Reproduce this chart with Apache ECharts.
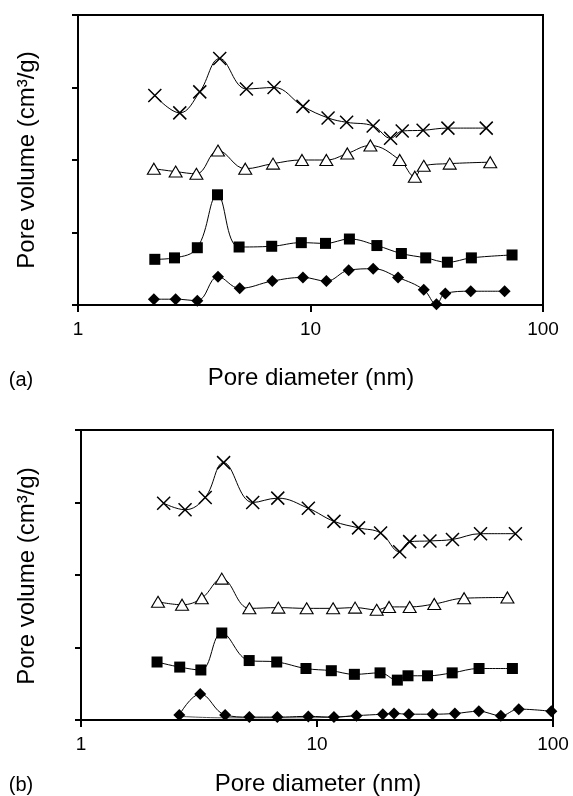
<!DOCTYPE html>
<html>
<head>
<meta charset="utf-8">
<script src="https://cdn.jsdelivr.net/npm/echarts@6/dist/echarts.min.js"></script>
<style>
  html, body { margin: 0; padding: 0; background: #fff; }
  #chart { width: 573px; height: 796px; }
</style>
</head>
<body>
<div id="chart"></div>
<script>
// Pore size distributions, two panels, curves offset vertically.
// x = pore diameter (nm, log scale), y = pore volume in axis units (0..4).

const xTicks = [1, 10, 100];

// panel (a)
const aCrossX = [2.14, 2.74, 3.34, 4.07, 5.30, 6.97, 9.28, 11.9, 14.3, 18.6, 22.1, 24.8, 30.5, 39.0, 57.0];
const aCrossY = [2.89, 2.65, 2.94, 3.40, 2.98, 3.00, 2.74, 2.58, 2.52, 2.47, 2.30, 2.40, 2.41, 2.44, 2.44];
const aTriX = [2.12, 2.63, 3.23, 4.00, 5.24, 6.90, 9.19, 11.7, 14.4, 18.1, 24.2, 28.1, 30.7, 39.7, 59.3];
const aTriY = [1.88, 1.84, 1.81, 2.13, 1.88, 1.95, 2.00, 2.00, 2.09, 2.20, 2.00, 1.77, 1.92, 1.95, 1.97];
const aSqX = [2.14, 2.60, 3.26, 3.98, 4.93, 6.81, 9.13, 11.6, 14.7, 19.3, 24.6, 31.3, 38.8, 49.2, 73.6];
const aSqY = [0.63, 0.65, 0.79, 1.52, 0.80, 0.81, 0.86, 0.85, 0.91, 0.82, 0.71, 0.65, 0.59, 0.65, 0.69];
const aDiaX = [2.12, 2.63, 3.26, 4.00, 4.96, 6.85, 9.28, 11.7, 14.6, 18.6, 23.8, 30.7, 34.8, 38.0, 48.9, 68.4];
const aDiaY = [0.08, 0.08, 0.06, 0.39, 0.23, 0.33, 0.38, 0.33, 0.48, 0.50, 0.38, 0.21, 0.01, 0.16, 0.19, 0.19];

// panel (b)
const bCrossX = [2.24, 2.76, 3.36, 4.02, 5.34, 6.82, 9.19, 11.8, 15.0, 18.6, 22.4, 24.7, 30.1, 37.5, 49.3, 69.3];
const bCrossY = [2.99, 2.90, 3.07, 3.55, 3.00, 3.06, 2.92, 2.74, 2.65, 2.58, 2.32, 2.46, 2.47, 2.49, 2.57, 2.57];
const bTriX = [2.12, 2.68, 3.25, 3.95, 5.17, 6.86, 9.04, 11.7, 14.5, 17.9, 20.2, 24.7, 31.4, 42.0, 64.1];
const bTriY = [1.63, 1.59, 1.68, 1.95, 1.54, 1.55, 1.54, 1.54, 1.55, 1.52, 1.56, 1.56, 1.60, 1.68, 1.69];
const bSqX = [2.10, 2.62, 3.22, 3.95, 5.16, 6.75, 8.98, 11.5, 14.4, 18.5, 21.9, 24.3, 29.4, 37.4, 48.6, 67.3];
const bSqY = [0.80, 0.73, 0.69, 1.20, 0.82, 0.80, 0.71, 0.68, 0.63, 0.65, 0.55, 0.61, 0.61, 0.65, 0.71, 0.71];
const bDiaX = [2.61, 3.20, 4.08, 5.17, 6.79, 9.19, 11.8, 14.7, 19.0, 21.2, 24.5, 30.9, 38.4, 48.5, 60.1, 71.6, 98.4];
const bDiaY = [0.07, 0.36, 0.07, 0.04, 0.04, 0.05, 0.04, 0.06, 0.08, 0.09, 0.08, 0.08, 0.09, 0.12, 0.06, 0.15, 0.12];
// faint second trace under the (b) diamonds
const bDiaBackX = [2.61, 4.08, 9.19, 14.7];
const bDiaBackY = [0.05, 0.03, 0.03, 0.06];

const FONT = '"Liberation Sans", Arial, sans-serif';
const pairs = (xs, ys) => xs.map((x, i) => [x, ys[i]]);

const CROSS = 'path://M0,0L10,10M10,0L0,10';

function series(grid, name, xs, ys, kind) {
  const s = {
    name, type: 'line', xAxisIndex: grid, yAxisIndex: grid,
    data: pairs(xs, ys), smooth: 0.4, z: 3,
    lineStyle: { color: '#000', width: 1 },
    symbol: 'none', animation: false
  };
  if (kind === 'cross') {
    s.symbol = CROSS; s.symbolSize = 13;
    s.itemStyle = { color: 'rgba(0,0,0,0)', borderColor: '#000', borderWidth: 1.5 };
  } else if (kind === 'tri') {
    s.symbol = 'triangle'; s.symbolSize = [13, 11];
    s.itemStyle = { color: '#fff', borderColor: '#000', borderWidth: 1.1 };
  } else if (kind === 'sq') {
    s.symbol = 'rect'; s.symbolSize = 11;
    s.itemStyle = { color: '#000', borderColor: '#000', borderWidth: 0 };
  } else if (kind === 'dia') {
    s.symbol = 'diamond'; s.symbolSize = [12, 12];
    s.itemStyle = { color: '#000', borderColor: '#000', borderWidth: 0 };
  } else {
    s.lineStyle = { color: '#555', width: 1 };
    s.z = 2;
  }
  return s;
}

function xAxis(grid) {
  return {
    type: 'log', logBase: 10, min: 1, max: 100, gridIndex: grid,
    axisLine: { lineStyle: { color: '#000', width: 2 } },
    axisTick: { show: true, length: 7, lineStyle: { color: '#000', width: 2 } },
    minorTick: { show: false },
    splitLine: { show: false },
    axisLabel: {
      margin: 15, fontSize: 19, fontFamily: FONT, color: '#000',
      formatter: v => (xTicks.indexOf(Math.round(v)) >= 0 ? String(Math.round(v)) : '')
    }
  };
}

function yAxis(grid) {
  return {
    type: 'value', min: 0, max: 4, interval: 1, gridIndex: grid,
    axisLine: { show: true, lineStyle: { color: '#000', width: 2 } },
    axisTick: { show: true, length: 6, lineStyle: { color: '#000', width: 2 } },
    axisLabel: { show: false },
    splitLine: { show: false }
  };
}

function label(text, x, y, size, rotate) {
  return {
    type: 'text', x, y, rotation: rotate ? Math.PI / 2 : 0,
    style: { text, fontSize: size, fontFamily: FONT, fill: '#000', align: 'center', verticalAlign: 'middle' }
  };
}

const chart = echarts.init(document.getElementById('chart'), null, { renderer: 'canvas' });
chart.setOption({
  backgroundColor: '#fff',
  animation: false,
  grid: [
    { left: 78, top: 15, width: 465, height: 290, show: true, borderColor: '#000', borderWidth: 2, backgroundColor: 'transparent' },
    { left: 81, top: 430, width: 472, height: 290, show: true, borderColor: '#000', borderWidth: 2, backgroundColor: 'transparent' }
  ],
  xAxis: [xAxis(0), xAxis(1)],
  yAxis: [yAxis(0), yAxis(1)],
  series: [
    series(0, 'a-cross', aCrossX, aCrossY, 'cross'),
    series(0, 'a-tri', aTriX, aTriY, 'tri'),
    series(0, 'a-sq', aSqX, aSqY, 'sq'),
    series(0, 'a-dia', aDiaX, aDiaY, 'dia'),
    series(1, 'b-cross', bCrossX, bCrossY, 'cross'),
    series(1, 'b-tri', bTriX, bTriY, 'tri'),
    series(1, 'b-sq', bSqX, bSqY, 'sq'),
    series(1, 'b-dia-back', bDiaBackX, bDiaBackY, 'line'),
    series(1, 'b-dia', bDiaX, bDiaY, 'dia')
  ],
  graphic: [
    label('Pore volume (cm³/g)', 27, 160, 24, true),
    label('Pore volume (cm³/g)', 27, 576, 24, true),
    label('Pore diameter (nm)', 311, 378, 24),
    label('Pore diameter (nm)', 318, 784, 24),
    label('(a)', 21, 380, 20),
    label('(b)', 21, 785, 20)
  ]
});
</script>
</body>
</html>
